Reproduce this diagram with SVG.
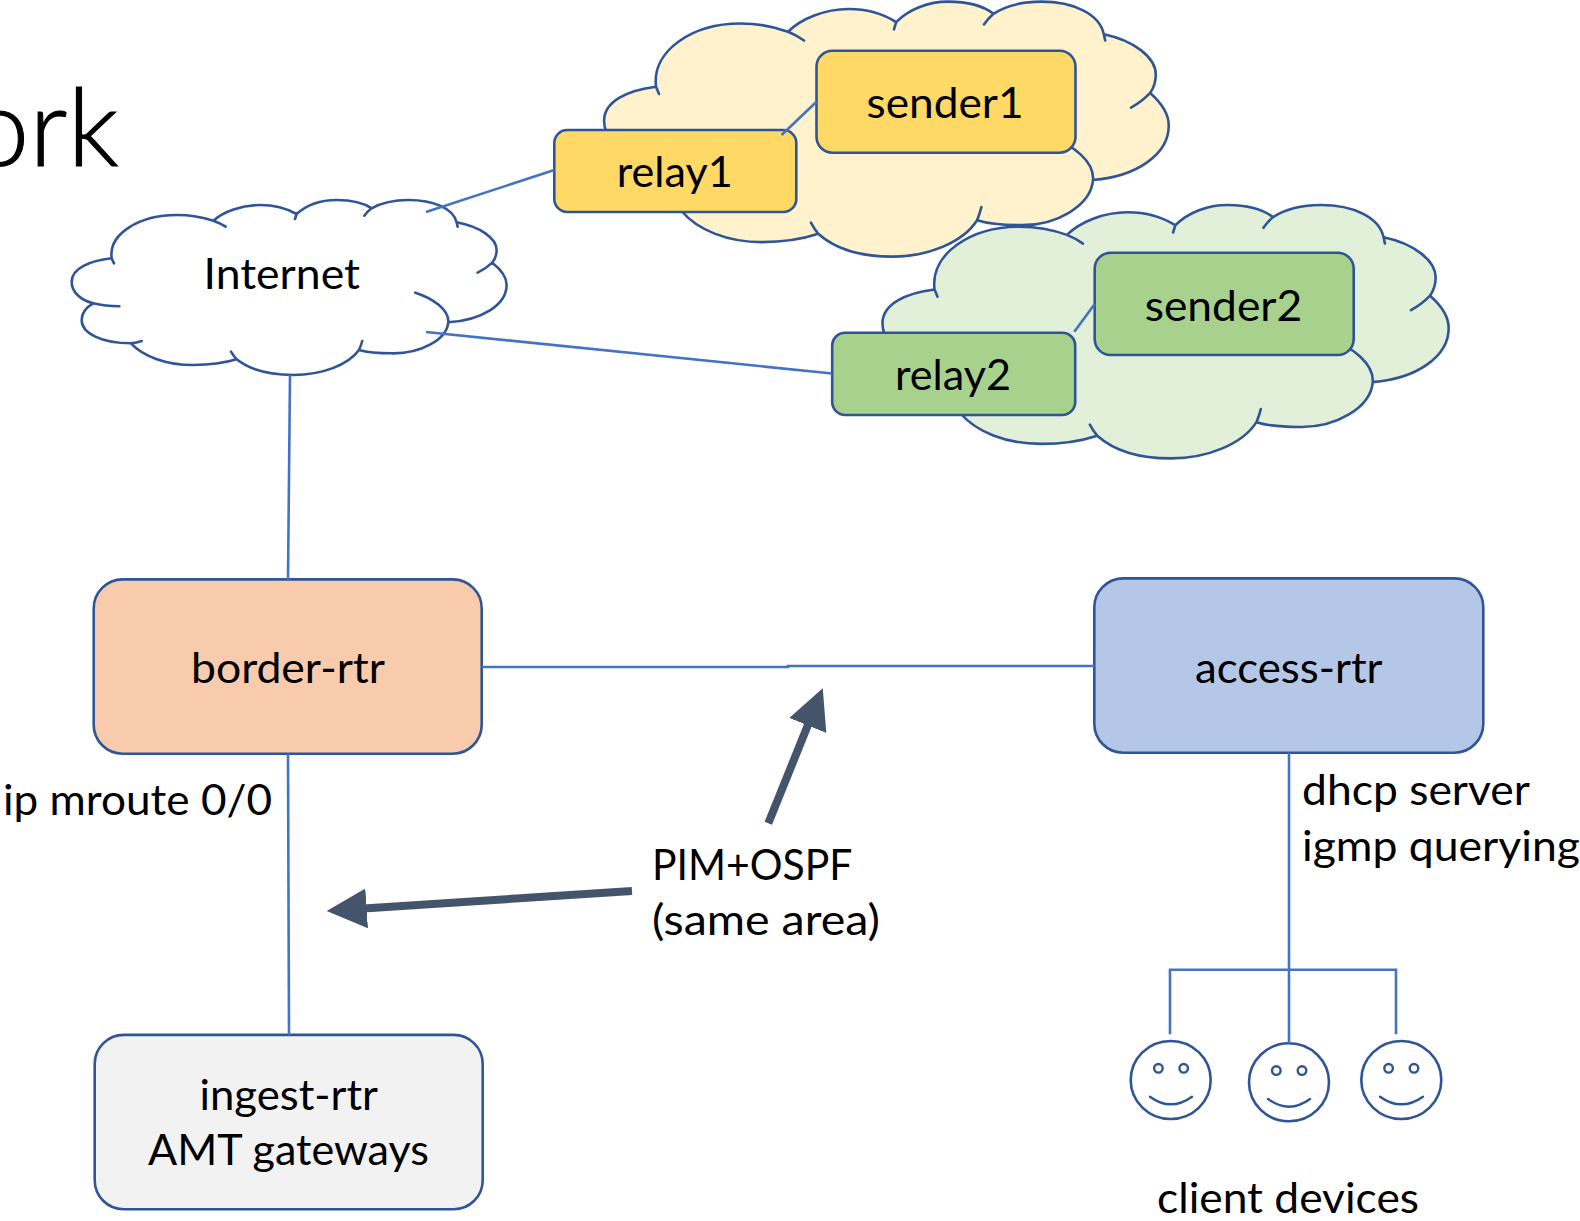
<svg xmlns="http://www.w3.org/2000/svg" xmlns:xlink="http://www.w3.org/1999/xlink" width="1580" height="1221" viewBox="0 0 1580 1221">
<style>
text{font-family:"Lato","Carlito","Open Sans",sans-serif;font-size:42px;fill:#000}
.title{font-weight:300;font-size:108px;stroke:#000;stroke-width:1}
.box{stroke:#2f5597;stroke-width:2.6}
.cb{stroke:none}
.co{fill:none;stroke:#2f5597;stroke-width:2.6;vector-effect:non-scaling-stroke;stroke-linejoin:round;stroke-linecap:round}
.lk{fill:none;stroke:#4472c4;stroke-width:2.6}
.fat{stroke:#44546a;stroke-width:8;fill:none}
.face{fill:#fff;stroke:#2f5597;stroke-width:2.6}
.mark{fill:none;stroke:#2f5597;stroke-width:2.4;stroke-linecap:round}
</style>
<defs>
<path id="cloudBody" class="cb" d="M100,340C60,330 35,305 35,275C35,235 90,212 155,205C145,130 240,75 350,75C390,75 430,82 460,92C490,65 545,45 600,45C640,45 680,55 710,72C740,45 785,30 830,30C870,30 910,38 935,55C965,38 1005,30 1045,30C1120,30 1180,55 1190,97C1260,110 1310,145 1310,180C1310,195 1305,208 1297,218C1325,240 1340,260 1340,285C1340,345 1265,390 1165,397C1160,450 1080,492 995,490C960,490 925,488 897,480C865,525 785,555 700,555C630,555 570,540 530,508C490,520 445,525 400,525C320,525 250,500 213,460C125,460 65,430 65,390C65,368 78,352 100,340Z"/>
<path id="cloudLine" class="co" d="M100,340C60,330 35,305 35,275C35,235 90,212 155,205C145,130 240,75 350,75C390,75 430,82 460,92C490,65 545,45 600,45C640,45 680,55 710,72C740,45 785,30 830,30C870,30 910,38 935,55C965,38 1005,30 1045,30C1120,30 1180,55 1190,97C1260,110 1310,145 1310,180C1310,195 1305,208 1297,218C1325,240 1340,260 1340,285C1340,345 1265,390 1165,397C1160,450 1080,492 995,490C960,490 925,488 897,480C865,525 785,555 700,555C630,555 570,540 530,508C490,520 445,525 400,525C320,525 250,500 213,460C125,460 65,430 65,390C65,368 78,352 100,340ZM100,340Q135,349 178,349M155,205L162,220M460,92Q480,99 497,110M710,72L705,87M935,55Q922,65 913,77M1190,97L1193,110M1297,218Q1278,236 1253,248M1165,397C1168,360 1120,325 1066,308M897,480Q903,467 907,453M530,508Q520,497 513,485M213,460Q230,458 245,453"/>
<marker id="head" markerUnits="userSpaceOnUse" markerWidth="40" markerHeight="40" refX="30" refY="20" orient="auto"><path d="M0,0L40,20L0,40Z" fill="#44546a"/></marker>
</defs>
<text class="title" x="-31" y="166">ork</text>
<g id="cloud-internet"><use xlink:href="#cloudBody" href="#cloudBody" fill="#fff" transform="translate(60,190) scale(.3333)"/><use xlink:href="#cloudLine" href="#cloudLine" transform="translate(60,190) scale(.3333)"/></g>
<g id="cloud-1"><use xlink:href="#cloudBody" href="#cloudBody" fill="#fff2cc" transform="translate(588.94,-12.9) scale(.4327,.4857)"/><use xlink:href="#cloudLine" href="#cloudLine" transform="translate(588.94,-12.9) scale(.4327,.4857)"/></g>
<g id="cloud-2"><use xlink:href="#cloudBody" href="#cloudBody" fill="#e2f0d9" transform="translate(867.26,190.5) scale(.4339,.4826)"/><use xlink:href="#cloudLine" href="#cloudLine" transform="translate(867.26,190.5) scale(.4339,.4826)"/></g>
<g id="node-internet"><text x="203.5" y="289.3" textLength="156.5" lengthAdjust="spacingAndGlyphs">Internet</text></g>
<g id="node-sender1"><rect class="box" x="816.5" y="50.7" width="259" height="102" rx="16" fill="#ffd966"/><text x="866.6" y="118.3" textLength="157" lengthAdjust="spacingAndGlyphs">sender1</text></g>
<g id="node-relay1"><rect class="box" x="554.3" y="130" width="242" height="82" rx="13" fill="#ffd966"/><text x="616.7" y="186.8" textLength="116" lengthAdjust="spacingAndGlyphs">relay1</text></g>
<g id="node-sender2"><rect class="box" x="1094.7" y="252.7" width="259" height="102.3" rx="16" fill="#a9d18e"/><text x="1144.7" y="320.8" textLength="157.5" lengthAdjust="spacingAndGlyphs">sender2</text></g>
<g id="node-relay2"><rect class="box" x="832.2" y="332.7" width="243" height="82.3" rx="13" fill="#a9d18e"/><text x="895" y="390.3" textLength="116" lengthAdjust="spacingAndGlyphs">relay2</text></g>
<g id="node-border-rtr"><rect class="box" x="93.7" y="579.4" width="388" height="174.3" rx="29" fill="#f8cbad"/><text x="191" y="682.8" textLength="194" lengthAdjust="spacingAndGlyphs">border-rtr</text></g>
<g id="node-access-rtr"><rect class="box" x="1094.3" y="578.4" width="389" height="174.3" rx="29" fill="#b4c7e7"/><text x="1195" y="682.8" textLength="187.5" lengthAdjust="spacingAndGlyphs">access-rtr</text></g>
<g id="node-ingest-rtr"><rect class="box" x="94.7" y="1034.9" width="388" height="174.3" rx="29" fill="#f2f2f2"/><text x="199.5" y="1109.5" textLength="178.5" lengthAdjust="spacingAndGlyphs">ingest-rtr</text><text x="148" y="1165.2" textLength="281" lengthAdjust="spacingAndGlyphs">AMT gateways</text></g>
<g id="node-client-1"><ellipse class="face" cx="1170.7" cy="1080" rx="40" ry="39"/><g class="mark"><circle cx="1158.4" cy="1068.3" r="4.3"/><circle cx="1183.7" cy="1068.3" r="4.3"/><path d="M1150,1096.7Q1170.7,1112 1192,1096.7"/></g></g>
<g id="node-client-2"><ellipse class="face" cx="1289" cy="1082.3" rx="40" ry="39"/><g class="mark"><circle cx="1276.3" cy="1070.6" r="4.3"/><circle cx="1302" cy="1070.6" r="4.3"/><path d="M1268,1099Q1289,1114.3 1310,1099"/></g></g>
<g id="node-client-3"><ellipse class="face" cx="1401.3" cy="1080" rx="40" ry="39"/><g class="mark"><circle cx="1388.6" cy="1068.3" r="4.3"/><circle cx="1414" cy="1068.3" r="4.3"/><path d="M1380,1096.7Q1401.3,1112 1423,1096.7"/></g></g>
<g id="connectors">
<path class="lk" d="M426,212L554.3,170"/>
<path class="lk" d="M426,332L832.2,373.5"/>
<path class="lk" d="M816.5,101.7L781.6,135"/>
<path class="lk" d="M1094.7,304L1074.3,331.7"/>
<path class="lk" d="M290,375L288,579.4"/>
<path class="lk" d="M288,753.7L289,1034.9"/>
<path class="lk" d="M481.7,667H788V666H1094.3"/>
<path class="lk" d="M1289,752.7V1043.3"/>
<path class="lk" d="M1170,1034.3V969.7H1396V1034.3"/>
<path class="fat" marker-end="url(#head)" d="M768.3,823.3L819,697.6"/>
<path class="fat" marker-end="url(#head)" d="M632,891L336.7,910.3"/>
</g>
<g id="labels">
<text x="3" y="815.3" textLength="269" lengthAdjust="spacingAndGlyphs">ip mroute 0/0</text>
<text x="1302" y="804.5" textLength="228" lengthAdjust="spacingAndGlyphs">dhcp server</text>
<text x="1302" y="860.5" textLength="278" lengthAdjust="spacingAndGlyphs">igmp querying</text>
<text x="652" y="879.5" textLength="200.5" lengthAdjust="spacingAndGlyphs">PIM+OSPF</text>
<text x="652" y="935.3" textLength="228" lengthAdjust="spacingAndGlyphs">(same area)</text>
<text x="1157" y="1212.5" textLength="262" lengthAdjust="spacingAndGlyphs">client devices</text>
</g>
</svg>
